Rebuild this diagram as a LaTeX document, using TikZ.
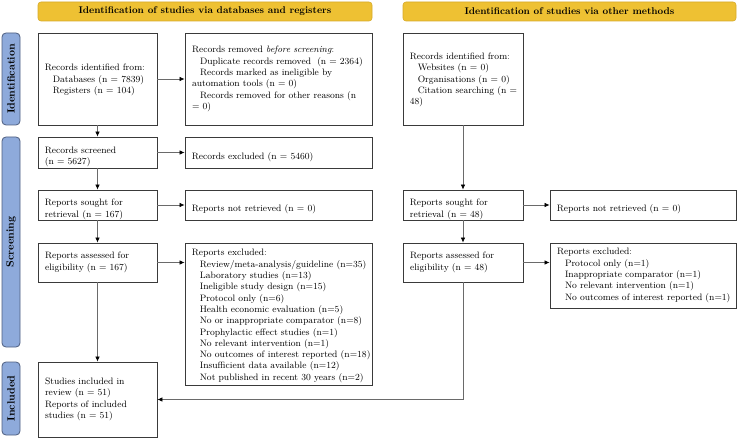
\documentclass[tikz,border=0pt]{standalone}
\usetikzlibrary{arrows.meta}
\definecolor{hdr}{HTML}{EEC133}
\definecolor{hdrb}{HTML}{D6AA2A}
\definecolor{side}{HTML}{8EAADB}
\definecolor{sideb}{HTML}{4E5E80}
\definecolor{bx}{HTML}{3A3A3A}
\definecolor{lnc}{HTML}{6A6A6A}
\newcommand\ind{\hspace*{8pt}}
\newcommand\oneline[1]{\mbox{#1}}
\tikzset{
 box/.style={draw=bx, line width=0.8pt, align=left, inner xsep=7pt, inner ysep=2pt,
   font=\fontsize{9.3}{11.3}\selectfont, anchor=center},
 txt/.style={align=left, inner xsep=7pt, inner ysep=0pt,
   font=\fontsize{9.3}{11.3}\selectfont, anchor=west},
 hdrbox/.style={draw=hdrb, fill=hdr, rounded corners=3pt, line width=0.6pt,
   font=\fontsize{9.8}{12}\selectfont\bfseries, inner sep=0pt},
 sidebox/.style={draw=sideb, fill=side, rounded corners=4pt, line width=0.8pt,
   font=\fontsize{10.5}{12}\selectfont\bfseries, rotate=90, inner sep=0pt,
   minimum height=18pt},
 arr/.style={draw=lnc, line width=0.7pt, -{Latex[length=5pt,width=4.5pt,color=black]}}
}
\begin{document}
\begin{tikzpicture}[x=1pt,y=-1pt]
\useasboundingbox (0,0) rectangle (738,438);
% headers
\node[hdrbox, minimum width=334pt, minimum height=19pt] (h1) at (205,11.5) {Identification of studies via databases and registers};
\node[hdrbox, minimum width=333pt, minimum height=19pt] (h2) at (569.5,11.5) {Identification of studies via other methods};
% side labels
\node[sidebox, minimum width=92pt] (s1) at (11,79) {Identification};
\node[sidebox, minimum width=210pt] (s2) at (11,242) {Screening};
\node[sidebox, minimum width=73pt] (s3) at (11,398.5) {Included};
% left column
\node[box, minimum width=119pt, minimum height=92pt] (lid) at (97.5,79) {};
\node[txt] (lidt) at ([yshift=-1pt]lid.west) {Records identified from:\\ \ind Databases (n = 7839)\\ \ind Registers (n = 104)};
\node[box, minimum width=119pt, minimum height=31pt] (lscr) at (97.5,152.5) {};
\node[txt] (lscrt) at ([yshift=-4.5pt]lscr.west) {Records screened\\ (n = 5627)};
\node[box, minimum width=119pt, minimum height=30pt] (lsou) at (97.5,205) {};
\node[txt] (lsout) at ([yshift=-4.5pt]lsou.west) {Reports sought for\\ retrieval (n = 167)};
\node[box, text width=105pt, minimum height=39pt] (lass) at (97.5,262.5) {Reports assessed for\\ eligibility (n = 167)};
\node[box, text width=105pt, minimum height=75pt] (incl) at (97.5,399.5) {Studies included in\\ review (n = 51)\\ Reports of included\\ studies (n = 51)};
% middle column
\node[box, text width=173pt, minimum height=92pt] (rem) at (278.5,79) {Records removed \emph{before screening}:\\ \ind\oneline{Duplicate records removed~~(n = 2364)}\\ \ind Records marked as ineligible by\\ automation tools (n = 0)\\ \ind\oneline{Records removed for other reasons (n}\\ = 0)};
\node[box, minimum width=187pt, minimum height=31pt] (exc) at (278.5,152.5) {};
\node[txt] (exct) at ([yshift=-4.5pt]exc.west) {Records excluded (n = 5460)};
\node[box, minimum width=187pt, minimum height=30pt] (nret) at (278.5,205) {};
\node[txt] (nrett) at ([yshift=-4.5pt]nret.west) {Reports not retrieved (n = 0)};
\node[box, minimum width=187pt, minimum height=142pt] (rexc) at (278.5,314) {};
\node[txt] (rexct) at ([yshift=-2pt]rexc.west) {Reports excluded:\\
\ind Review/meta-analysis/guideline (n=35)\\
\ind Laboratory studies (n=13)\\
\ind Ineligible study design (n=15)\\
\ind Protocol only (n=6)\\
\ind Health economic evaluation (n=5)\\
\ind No or inappropriate comparator (n=8)\\
\ind Prophylactic effect studies (n=1)\\
\ind No relevant intervention (n=1)\\
\ind No outcomes of interest reported (n=18)\\
\ind Insufficient data available (n=12)\\
\ind Not published in recent 30 years (n=2)};
% right column
\node[box, minimum width=120pt, minimum height=92pt] (rid) at (463,79) {};
\node[txt] (ridt) at ([yshift=-1pt]rid.west) {Records identified from:\\ \ind Websites (n = 0)\\ \ind Organisations (n = 0)\\ \ind Citation searching (n =\\ 48)};
\node[box, minimum width=120pt, minimum height=30pt] (rsou) at (463,205) {};
\node[txt] (rsout) at ([yshift=-4.5pt]rsou.west) {Reports sought for\\ retrieval (n = 48)};
\node[box, text width=106pt, minimum height=39pt] (rass) at (463,262.5) {Reports assessed for\\ eligibility (n = 48)};
\node[box, minimum width=186pt, minimum height=30pt] (rnret) at (643,205) {};
\node[txt] (rnrett) at ([yshift=-4.5pt]rnret.west) {Reports not retrieved (n = 0)};
\node[box, text width=172pt, minimum height=65pt] (rrexc) at (643,275.5) {Reports excluded:\\
\ind\oneline{Protocol only (n=1)}\\
\ind\oneline{Inappropriate comparator (n=1)}\\
\ind\oneline{No relevant intervention (n=1)}\\
\ind\oneline{No outcomes of interest reported (n=1)}};
% arrows
\draw[arr] (lid) -- (rem);
\draw[arr] (lid) -- (lscr);
\draw[arr] (lscr) -- (exc);
\draw[arr] (lscr) -- (lsou);
\draw[arr] (lsou) -- (nret);
\draw[arr] (lsou) -- (lass);
\draw[arr] (lass.east) -- (lass.east -| rexc.west);
\draw[arr] (lass) -- (incl);
\draw[arr] (rid) -- (rsou);
\draw[arr] (rsou) -- (rnret);
\draw[arr] (rsou) -- (rass);
\draw[arr] (rass) -- (rrexc.west |- rass.east);
\draw[arr] (rass.south) |- (incl.east);
\end{tikzpicture}
\end{document}
